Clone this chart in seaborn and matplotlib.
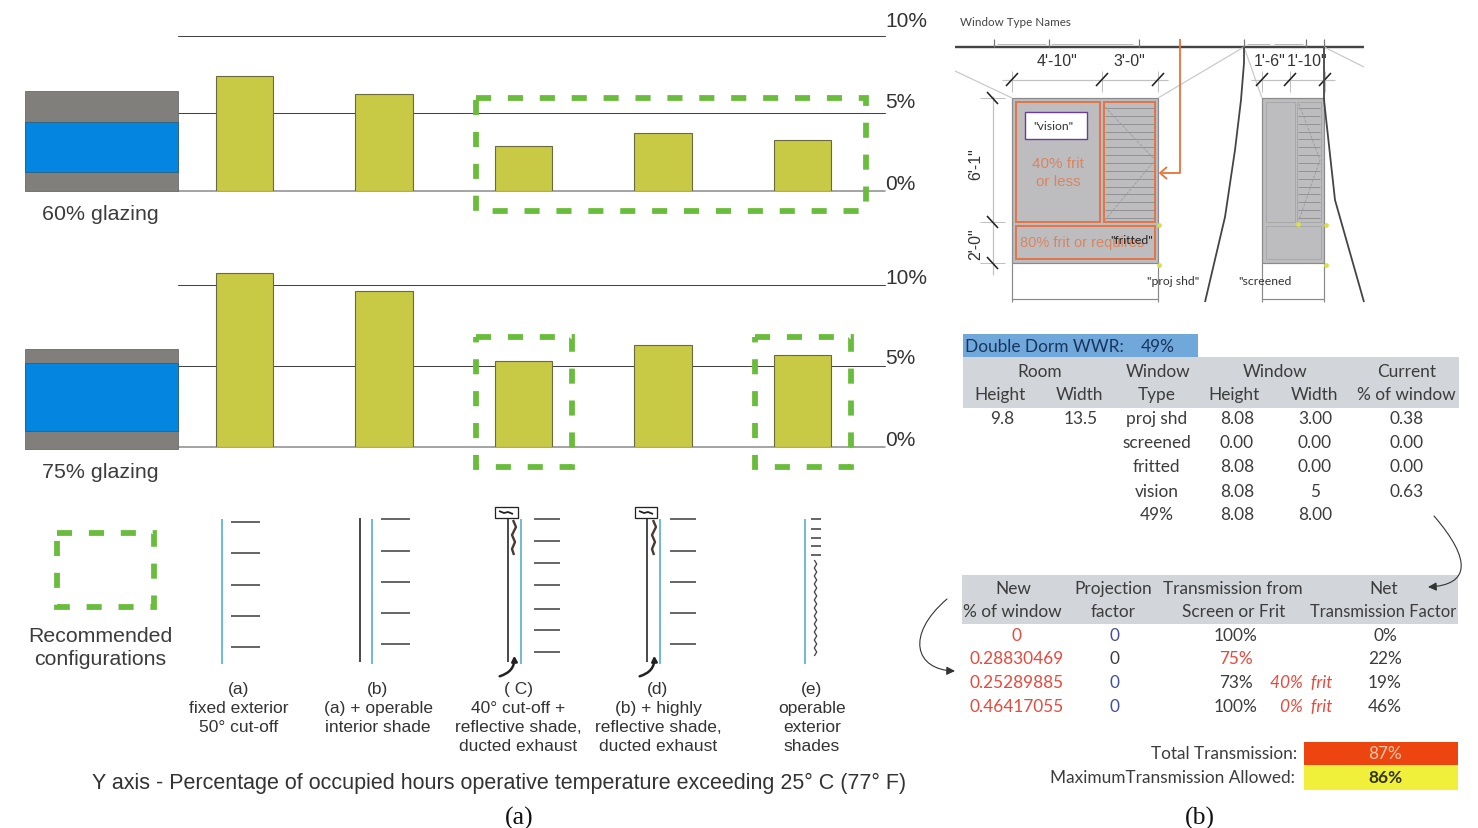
import matplotlib
matplotlib.use('Agg')
import matplotlib.pyplot as plt
import matplotlib.transforms as mtrans
from matplotlib.patches import Rectangle, FancyArrowPatch
from matplotlib.path import Path
import numpy as np
import pandas as pd
import seaborn as sns

W, H = 1478, 829

configs = ['a', 'b', 'c', 'd', 'e']
pct_60 = [7.4, 6.2, 2.9, 3.7, 3.25]
pct_75 = [10.7, 9.6, 5.3, 6.25, 5.65]

captions = [
    '(a)\nfixed exterior\n50° cut-off',
    '(b)\n(a) + operable\ninterior shade',
    '( C)\n40° cut-off +\nreflective shade,\nducted exhaust',
    '(d)\n(b) + highly\nreflective shade,\nducted exhaust',
    '(e)\noperable\nexterior\nshades',
]

room_head = ['Room', 'Window', 'Window', 'Current']
room_sub = ['Height', 'Width', 'Type', 'Height', 'Width', '% of window']
win_types = ['proj shd', 'screened', 'fritted', 'vision', '49%']
win_height = ['8.08', '0.00', '8.08', '8.08', '8.08']
win_width = ['3.00', '0.00', '0.00', '5', '8.00']
cur_pct = ['0.38', '0.00', '0.00', '0.63', '']

new_pct = ['0', '0.28830469', '0.25289885', '0.46417055']
proj_factor = ['0', '0', '0', '0']
trans_frit = ['100%', '75%', '73%', '100%']
frit_note = ['', '', '40%  frit', '0%  frit']
net_trans = ['0%', '22%', '19%', '46%']

GREEN = '#6abd3c'
OLIVE = '#c8c945'
ORANGE = '#e0764a'
FRIT_TXT = '#d98560'
GRAY = '#bdbdc0'
TXT = '#3c3c3c'
RED = '#e8483c'
NAVY = '#40509c'

sns.set_theme(style='white')
plt.rcParams['font.family'] = ['Liberation Sans', 'DejaVu Sans']

fig = plt.figure(figsize=(W / 100, H / 100), dpi=100)


def bars(values, y0, ppu, ytop, offsets):
    # axes placed so that 0 sits on pixel row y0
    ax = fig.add_axes([178 / W, 1 - y0 / H, 707 / W, ppu * ytop / H])
    df = pd.DataFrame({'config': configs, 'value': values})
    ax.axhline(0, color='#8a8a8a', lw=1.1, zorder=0, clip_on=False)
    for v in [5, 10]:
        ax.axhline(v, color='#444444', lw=0.75, zorder=0, clip_on=False)
    sns.barplot(data=df, x='config', y='value', color=OLIVE, width=0.41, saturation=1,
                edgecolor='#6a6a40', linewidth=0.8, ax=ax, zorder=2)
    ax.set_xlim(-0.477, 4.591)
    ax.set_ylim(0, ytop)
    ax.set_xticks([])
    ax.set_xlabel('')
    ax.set_ylabel('')
    ax.yaxis.tick_right()
    ax.set_yticks([0, 5, 10], ['0%', '5%', '10%'])
    ax.tick_params(axis='y', length=0, pad=0, labelsize=15, labelcolor='#333333')
    for lbl, dy in zip(ax.get_yticklabels(), offsets):
        lbl.set_transform(lbl.get_transform() + mtrans.ScaledTranslation(0, dy / 72, fig.dpi_scale_trans))
    sns.despine(ax=ax, left=True, bottom=True, right=True, top=True)
    ax.patch.set_alpha(0)
    return ax


bars(pct_60, 191.5, 15.5, 10, [6.5, 10, 12.2])
bars(pct_75, 447.5, 16.2, 11, [6.5, 7.2, 6.5])

# overlay in pixel coordinates for the drawings and tables
ov = fig.add_axes([0, 0, 1, 1], zorder=5)
ov.set_xlim(0, W)
ov.set_ylim(H - 1, -1)
ov.axis('off')


def t(x, y, s, size=12.4, color=TXT, ha='center', family='Lato', **kw):
    ov.text(x, y, s, fontsize=size, color=color, ha=ha, va='center', family=family, **kw)


def ln(xs, ys, color='#333333', lw=1.0, **kw):
    ov.plot(xs, ys, color=color, lw=lw * 0.72, solid_capstyle='butt', **kw)


def box(x0, y0, x1, y1, fc='none', ec='none', lw=1.0, **kw):
    ov.add_patch(Rectangle((x0, y0), x1 - x0, y1 - y0, fc=fc, ec=ec, lw=lw * 0.72, **kw))


def dashed(x0, y0, x1, y1):
    box(x0, y0, x1, y1, ec=GREEN, lw=5.8, linestyle=(0, (2.6, 2.9)))


def curve(p0, c0, c1, p1):
    ov.add_patch(FancyArrowPatch(path=Path([p0, c0, c1, p1], [Path.MOVETO, Path.CURVE4, Path.CURVE4, Path.CURVE4]),
                                 arrowstyle='-|>,head_length=5,head_width=2.5', color='#333333', lw=0.8))


# glazing sections
for top, b0, b1, bot, lab, ly in [(91, 122, 172, 191, '60% glazing', 214), (349, 363, 431, 449, '75% glazing', 472)]:
    box(25, top, 178, bot, fc='#807f7c', ec='#666666', lw=0.8)
    box(25, b0, 178, b1, fc='#0385e0', ec='#2a5f80', lw=0.8)
    t(100, ly, lab, size=15.4, family='Liberation Sans')

dashed(476, 98, 866, 211)
dashed(476, 337, 572, 467)
dashed(755, 337, 851, 467)
dashed(57, 533, 154, 607)
t(100, 647, 'Recommended\nconfigurations', size=15.3, family='Liberation Sans', linespacing=1.25)

# shading sketches
BLUE_LINE = '#62b5cf'
DK = '#444444'
for x0, x1, ys in [(231, 260, [522, 553, 585, 616, 647]),
                   (381, 410, [519, 551, 582, 613, 644]),
                   (534, 560, [519, 541, 563, 585, 609, 630, 652]),
                   (670, 696, [519, 551, 582, 613, 644]),
                   (811, 821, [519, 529, 538, 546, 555])]:
    for y in ys:
        ln([x0, x1], [y, y], DK, 1.6)
for x in [222, 372, 521, 660, 805]:
    ln([x, x], [519, 664], BLUE_LINE, 1.8)
for x in [360, 508, 647]:
    ln([x, x], [518, 662], '#222222', 1.6)
for bx0, bx1 in [(495, 518), (635, 657)]:
    box(bx0, 507, bx1, 518, ec='#222222', lw=1.3)
    ln([bx0 + 4, bx0 + 9, bx0 + 13, bx0 + 18], [511, 513, 512, 514], '#222222', 1.8)
    cx = bx0 + 18
    ln([cx, cx + 3, cx - 1, cx + 2, cx - 1, cx + 1], [520, 527, 535, 542, 549, 555], '#4a3a34', 2.4)
    ov.add_patch(FancyArrowPatch((bx0 + 2, 677), (bx0 + 19, 653), connectionstyle='arc3,rad=0.45',
                                 arrowstyle='-|>,head_length=3,head_width=1.6', color='#222222', lw=1.8))
wy = np.arange(560, 659, 4)
wx = [815.5 + (1.2 if i % 2 else -1.2) for i in range(len(wy))]
ln(wx, wy, '#444444', 1.3)

for x, s in zip([239, 378, 518, 658, 812], captions):
    ov.text(x, 681, s, fontsize=12.5, color='#333333', ha='center', va='top', family='Liberation Sans', linespacing=1.33)

t(499, 782, 'Y axis - Percentage of occupied hours operative temperature exceeding 25° C (77° F)',
  size=15.5, color='#333333', family='Liberation Sans')
t(519, 817, '(a)', size=18.5, color='#111111', family='Liberation Serif')
t(1200, 817, '(b)', size=18.5, color='#111111', family='Liberation Serif')

# window elevation, panel (b)
t(960, 22, 'Window Type Names', size=8.4, ha='left', color='#444444')
ln([955, 1364], [47, 47], '#444444', 2.4)
for x in [994, 1049, 1139, 1244, 1306, 1324]:
    ln([x, x], [39, 47], '#777777', 1.2)
for x0, x1 in [(997, 1046), (1051, 1133), (1247, 1270), (1274, 1303)]:
    ln([x0, x1], [44, 44], '#bbbbbb', 1.0)
ln([955, 1012], [71, 98], '#c8c8c8', 1.2)
ln([1158, 1244], [98, 47], '#c8c8c8', 1.2)
ln([1244, 1262], [47, 98], '#c8c8c8', 1.2)
ln([1324, 1364], [47, 67], '#c8c8c8', 1.2)

ln([1002, 1168], [80, 80], '#c0c0c0', 1.2)
ln([1251, 1335], [80, 80], '#c0c0c0', 1.2)
for x in [1012, 1102, 1158, 1262, 1290, 1325]:
    ln([x, x], [71, 92], '#c0c0c0', 1.0)
    ln([x - 6, x + 6], [86, 73], '#222222', 1.6)
ln([992.5, 992.5], [96, 275], '#c0c0c0', 1.2)
for y in [98, 222, 263]:
    ln([980, 1005], [y, y], '#c0c0c0', 1.0)
    ln([987, 998], [y - 6, y + 6], '#222222', 1.6)
for x, s in [(1057, '4\'-10"'), (1129, '3\'-0"'), (1270, '1\'-6"'), (1307, '1\'-10"')]:
    t(x, 61, s, size=11.5, color='#333333', family='Liberation Sans')
t(976, 163, '6\'-1"', size=11.5, color='#333333', family='Liberation Sans', rotation=90)
t(976, 243, '2\'-0"', size=11.5, color='#333333', family='Liberation Sans', rotation=90)

for x0, x1 in [(1012, 1158), (1262, 1324)]:
    box(x0, 98, x1, 263, fc=GRAY, ec='#8a8a8a', lw=1.2)
    ln([x0, x0], [263, 302], '#8a8a8a', 1.2)
    ln([x1, x1], [263, 302], '#8a8a8a', 1.2)
    ln([x0, x1], [299, 299], '#8a8a8a', 1.2)
for xa, xb in [(1016, 1100), (1104, 1155)]:
    box(xa, 102, xb, 222, ec=ORANGE, lw=2)
box(1016, 226, 1155, 259, ec=ORANGE, lw=2)
box(1266, 102, 1295, 222, ec='#a8a8a8', lw=1)
box(1297, 102, 1321, 222, ec='#a8a8a8', lw=1)
box(1266, 226, 1321, 259, ec='#a8a8a8', lw=1)
for y in np.linspace(108, 218, 15):
    ln([1105, 1154], [y, y], '#8e8e8e', 0.9)
    ln([1298, 1320], [y, y], '#8e8e8e', 0.9)
ln([1105, 1155, 1105], [107, 160, 220], '#999999', 0.8, linestyle='--')
ln([1299, 1320, 1299], [104, 160, 220], '#999999', 0.8, linestyle='--')

box(1024.5, 112, 1087, 139, fc='white', ec='#6a3d9a', lw=1.4)
t(1053, 125, '"vision"', size=8.8, color='#333333')
t(1058, 172, '40% frit\nor less', size=11, color=FRIT_TXT, family='Liberation Sans', linespacing=1.35)
t(1082, 242, '80% frit or requires', size=10.5, color=FRIT_TXT, family='Liberation Sans')
t(1132, 240, '"fritted"', size=8.8, color='#222222')
t(1173, 281, '"proj shd"', size=8.8, color='#333333')
t(1265, 281, '"screened', size=8.8, color='#333333')
ln([1180, 1180, 1162], [39, 173, 173], '#e8703a', 1.8)
ln([1167, 1160, 1167], [167, 173, 179], '#e8703a', 1.8)
ln([1244, 1244, 1241, 1235, 1225, 1205], [47, 63, 100, 150, 217, 302], '#444444', 1.8)
ln([1324, 1324, 1335, 1364], [47, 100, 200, 302], '#444444', 1.8)
ov.scatter([1159, 1159, 1326, 1326, 1298], [225, 265, 225, 265, 224], s=6, color='#d8e04a', zorder=6)

# first table
box(963, 334, 1198, 357, fc='#70a8dc')
t(965, 346, 'Double Dorm WWR:', ha='left', color='#17365d')
t(1158, 346, '49%', color='#17365d')
box(963, 357, 1459, 408, fc='#d2d5da')
for x, s in zip([1040, 1158, 1275, 1407], room_head):
    t(x, 371, s)
for x, s in zip([1000.5, 1079.5, 1157, 1234, 1314.6, 1406], room_sub):
    t(x, 394, s)
t(1002, 418, '9.8')
t(1080.5, 418, '13.5')
for y, a, b, c, d in zip([418, 442, 466, 491, 514], win_types, win_height, win_width, cur_pct):
    t(1156.5, y, a)
    t(1237, y, b)
    t(1315, y, c)
    t(1407, y, d)

# second table
box(962, 575, 1458, 624, fc='#d2d5da')
for x, y, s in [(1013, 588, 'New'), (1012, 611, '% of window'), (1113, 588, 'Projection'),
                (1113.5, 611, 'factor'), (1233, 588, 'Transmission from'), (1234, 611, 'Screen or Frit')]:
    t(x, y, s)
t(1384, 588, 'Net')
t(1383, 611, 'Transmission Factor', size=11.9)
for i, y in enumerate([635, 658, 682, 706]):
    t(1016.6, y, new_pct[i], color=RED)
    t(1114, y, proj_factor[i], color=NAVY if i != 1 else TXT)
    t(1235.5, y, trans_frit[i], color=RED if i == 1 else TXT)
    if frit_note[i]:
        t(1332, y, frit_note[i], ha='right', color=RED, style='italic')
    t(1385, y, net_trans[i])

t(1297, 753, 'Total Transmission:', ha='right')
t(1295, 777, 'MaximumTransmission Allowed:', ha='right')
box(1304, 742, 1458, 765, fc='#ec4510')
box(1304, 765, 1458, 790, fc='#f0f03a')
t(1385, 753, '87%', color='#f8c8a8')
t(1385, 777, '86%', color='#333311', weight='bold')

curve((1434, 516), (1472, 560), (1470, 585), (1428, 587))
curve((947, 599), (905, 635), (915, 670), (955, 671))

fig.savefig('out.png', dpi=100)
